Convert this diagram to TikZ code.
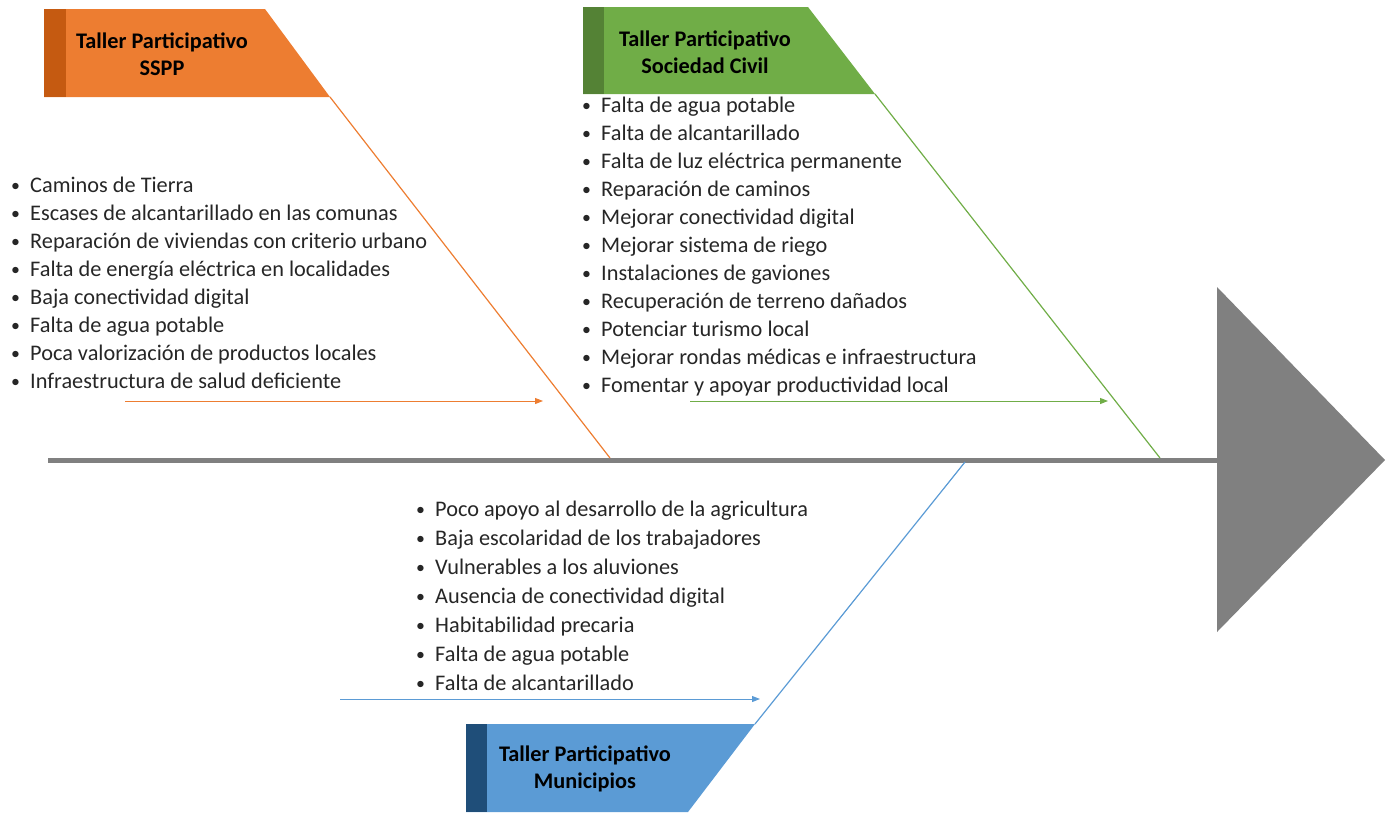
\documentclass[tikz,border=0pt]{standalone}
\usepackage{fontspec}
\setmainfont{Carlito}
\usetikzlibrary{arrows.meta}
\definecolor{sspp}{RGB}{237,125,49}
\definecolor{sspposcuro}{RGB}{197,90,17}
\definecolor{sociedad}{RGB}{112,173,71}
\definecolor{sociedadoscuro}{RGB}{84,130,53}
\definecolor{municipio}{RGB}{91,155,213}
\definecolor{municipiooscuro}{RGB}{31,78,121}
\definecolor{espina}{RGB}{128,128,128}
\definecolor{texto}{RGB}{38,38,38}
\tikzset{
	item/.style={anchor=base west, inner sep=0pt, text=texto, font=\fontsize{22.3}{26}\selectfont},
	titulo/.style={align=center, inner sep=0pt, text=black, font=\bfseries\fontsize{22.3}{27}\selectfont},
	hueso/.style={line width=1.2pt},
	flecha/.style={-{Triangle[length=8pt,width=6pt]}, line width=1pt}
}
\newcommand{\vineta}{\llap{\makebox[19pt][l]{\raisebox{1pt}{\scalebox{0.8}{•}}}}}

\begin{document}
\begin{tikzpicture}[x=1pt,y=-1pt]
		\useasboundingbox (0,0) rectangle (1391,814);
		% espina y cabeza
		\fill[espina] (48,457.5) rectangle (1217,462.5);
		\fill[espina] (1217,287) -- (1385,460) -- (1217,632) -- cycle;
		
		% Taller SSPP
		\fill[sspp] (44,9) -- (265,9) -- (330,97) -- (44,97) -- cycle;
		\fill[sspposcuro] (44,9) rectangle (66,97);
		\node[titulo] (tsspp) at (162,54) {Taller Participativo\\SSPP};
		\coordinate (bsspp) at (330,97);
		\coordinate (esspp) at (610,458);
		\draw[sspp,hueso] (bsspp) -- (esspp);
		\foreach \txt [count=\i] in {Caminos de Tierra, Escases de alcantarillado en las comunas,
			Reparación de viviendas con criterio urbano, Falta de energía eléctrica en localidades,
			Baja conectividad digital, Falta de agua potable, Poca valorización de productos locales,
			Infraestructura de salud deficiente}
			\node[item] (sspp\i) at (30,{164+28*\i}) {\vineta\txt};
		\coordinate (asspp) at (125,401);
		\coordinate (fsspp) at (543,401);
		\draw[sspp,flecha] (asspp) -- (fsspp);
		
		% Taller Sociedad Civil
		\fill[sociedad] (583,7) -- (808,7) -- (875,94) -- (583,94) -- cycle;
		\fill[sociedadoscuro] (583,7) rectangle (604,94);
		\node[titulo] (tsoc) at (705,52) {Taller Participativo\\Sociedad Civil};
		\coordinate (bsoc) at (875,94);
		\coordinate (esoc) at (1160,458);
		\draw[sociedad,hueso] (bsoc) -- (esoc);
		\foreach \txt [count=\i] in {Falta de agua potable, Falta de alcantarillado,
			Falta de luz eléctrica permanente, Reparación de caminos, Mejorar conectividad digital,
			Mejorar sistema de riego, Instalaciones de gaviones, Recuperación de terreno dañados,
			Potenciar turismo local, Mejorar rondas médicas e infraestructura,
			Fomentar y apoyar productividad local}
			\node[item] (soc\i) at (601,{84+28*\i}) {\vineta\txt};
		\coordinate (asoc) at (690,401);
		\coordinate (fsoc) at (1108,401);
		\draw[sociedad,flecha] (asoc) -- (fsoc);
		
		% Taller Municipios
		\fill[municipio] (466,724) -- (755,724) -- (688,812) -- (466,812) -- cycle;
		\fill[municipiooscuro] (466,724) rectangle (487,812);
		\node[titulo] (tmun) at (585,769) {Taller Participativo\\Municipios};
		\coordinate (bmun) at (755,724);
		\coordinate (emun) at (965,462);
		\draw[municipio,hueso] (bmun) -- (emun);
		\foreach \txt [count=\i] in {Poco apoyo al desarrollo de la agricultura,
			Baja escolaridad de los trabajadores, Vulnerables a los aluviones,
			Ausencia de conectividad digital, Habitabilidad precaria, Falta de agua potable,
			Falta de alcantarillado}
			\node[item] (mun\i) at (435,{487+29*\i}) {\vineta\txt};
		\coordinate (amun) at (340,699);
		\coordinate (fmun) at (760,699);
		\draw[municipio,flecha] (amun) -- (fmun);
	\end{tikzpicture}
\end{document}
